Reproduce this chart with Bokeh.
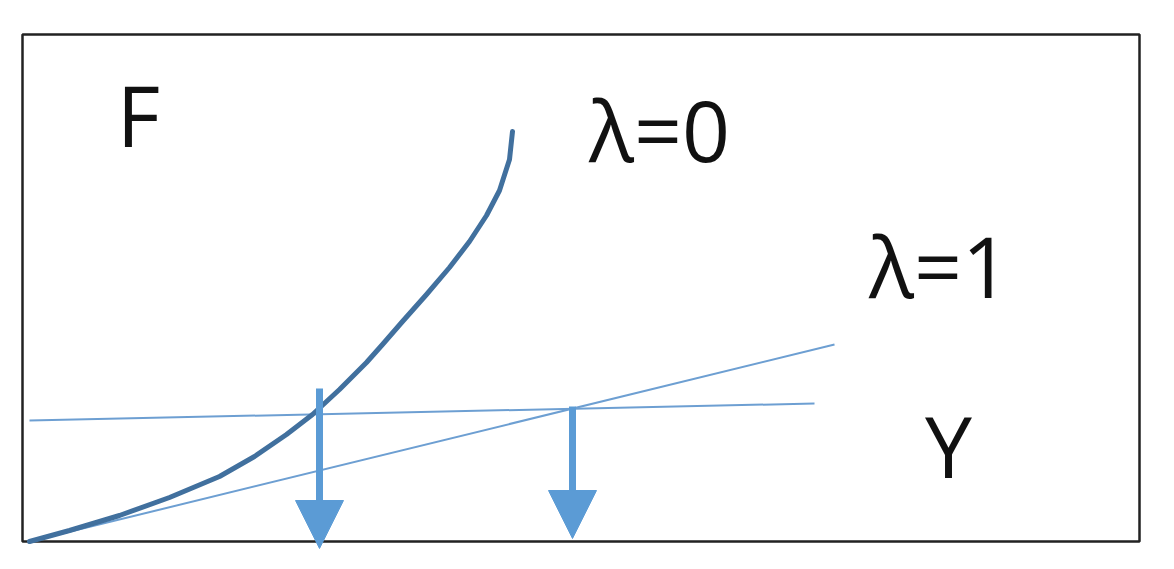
from bokeh.plotting import figure
from bokeh.models import Range1d, Arrow, NormalHead, ColumnDataSource
from bokeh.core.properties import value
from bokeh.embed import file_html
from bokeh.resources import INLINE

# curve F for lambda = 0
curve_y = [0.00, 0.40, 0.90, 1.40, 1.90, 2.25, 2.57, 2.83, 3.10, 3.37, 3.53, 3.73, 3.97, 4.20, 4.40, 4.57, 4.70, 4.80, 4.83]
curve_f = [0.00, 0.11, 0.26, 0.44, 0.65, 0.85, 1.07, 1.27, 1.52, 1.79, 1.97, 2.20, 2.47, 2.74, 3.00, 3.26, 3.51, 3.82, 4.10]

# straight line for lambda = 1
line1_y = [0.00, 8.05]
line1_f = [0.00, 1.97]

# nearly flat line
flat_y = [0.00, 7.85]
flat_f = [1.21, 1.38]

# arrows dropping to the Y axis
arrow_x = [2.90, 5.43]
arrow_top = [1.53, 1.35]
arrow_tip = [-0.07, 0.03]

# frame box
box_left, box_right, box_bottom, box_top = -0.07, 11.10, 0.0, 5.07

labels = ["F", "λ=0", "λ=1", "Υ"]
label_x = [1.09, 6.30, 9.10, 9.19]
label_y = [3.93, 3.78, 2.42, 0.62]

p = figure(width=1158, height=553, output_backend="svg", toolbar_location=None,
           x_range=Range1d(-0.29, 11.29), y_range=Range1d(-0.12, 5.41),
           x_axis_location=None, y_axis_location=None,
           min_border=0, min_border_left=0, min_border_right=0,
           min_border_top=0, min_border_bottom=0)
p.grid.visible = False
p.outline_line_color = None
p.background_fill_color = "white"
p.border_fill_color = "white"

p.quad(left=[box_left], right=[box_right], bottom=[box_bottom], top=[box_top],
       fill_color=None, line_color="#222222", line_width=2.5)

p.line(flat_y, flat_f, line_color="#6d9fd2", line_width=2)
p.line(line1_y, line1_f, line_color="#6d9fd2", line_width=2)
p.line(curve_y, curve_f, line_color="#41709e", line_width=5, line_cap="round", line_join="round")

src = ColumnDataSource(dict(x=arrow_x, y0=arrow_top, y1=arrow_tip))
p.add_layout(Arrow(end=NormalHead(size=48, fill_color="#5b9bd5", line_color="#5b9bd5"),
                   x_start="x", y_start="y0", x_end="x", y_end="y1", source=src,
                   line_color="#5b9bd5", line_width=7))

p.text(label_x, label_y, text=labels, text_font=value("Open Sans"),
       text_font_size="84px", text_color="#111111", y_offset=-34,
       text_align="center", text_baseline="alphabetic")

open("out.html", "w").write(file_html(p, INLINE))
